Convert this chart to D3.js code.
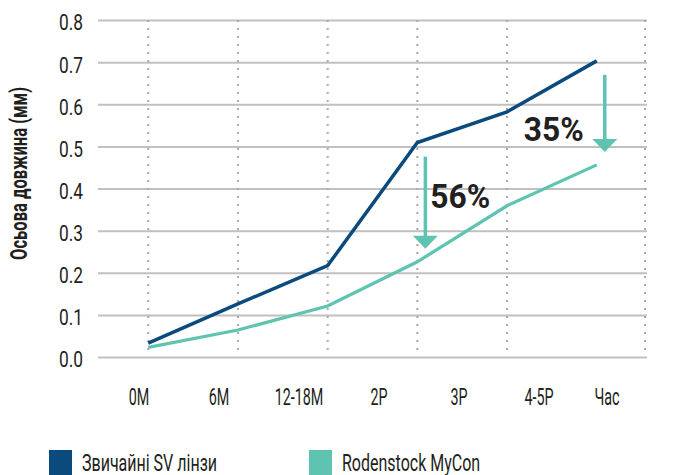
<!DOCTYPE html>
<html>
<head>
<meta charset="utf-8">
<script src="https://cdn.jsdelivr.net/npm/d3@7"></script>
<style>
  html, body { margin: 0; padding: 0; background: #ffffff; }
  svg { display: block; }
  text { font-family: Roboto, "Liberation Sans Narrow", "DejaVu Sans Condensed", sans-serif; fill: #231f20; }
</style>
</head>
<body>
<svg id="chart" width="695" height="475"></svg>
<script>
// Axial length growth: conventional single-vision lenses vs Rodenstock MyCon
const categories = ["0M", "6M", "12-18M", "2P", "3P", "4-5P"];
const svLenses = [0.033, 0.126, 0.217, 0.509, 0.582, 0.703];
const myCon = [0.023, 0.064, 0.121, 0.226, 0.359, 0.456];
const yTicks = [0, 0.1, 0.2, 0.3, 0.4, 0.5, 0.6, 0.7, 0.8];
const seriesNames = ["Звичайні SV лінзи", "Rodenstock MyCon"];
const xAxisTitle = "Час";
const yAxisTitle = "Осьова довжина (мм)";
const highlighted = ["2P", "4-5P"];

const colors = { sv: "#0b4a7d", mycon: "#5ec4b1", grid: "#c0c0c0", dots: "#a9a9a9" };

const svg = d3.select("#chart");
const plot = { left: 98, right: 647, top: 20, bottom: 357 };

const x = d3.scalePoint().domain(categories).range([plot.left, plot.right]).padding(0.56);
const xLabel = d3.scalePoint().domain(categories).range([139, 539]);
const y = d3.scaleLinear().domain([0, 0.8]).range([plot.bottom, plot.top]);

// squeeze text horizontally so a sample string hits a target width
function condense(sel, sampleText, targetWidth) {
  const nodes = sel.nodes();
  if (!nodes.length) return;
  const probe = svg.append("text")
    .attr("font-size", nodes[0].getAttribute("font-size") || getComputedStyle(nodes[0]).fontSize)
    .attr("font-weight", getComputedStyle(nodes[0]).fontWeight)
    .text(sampleText);
  const k = targetWidth / probe.node().getComputedTextLength();
  probe.remove();
  nodes.forEach(n => {
    const w = n.getComputedTextLength();
    n.setAttribute("textLength", (w * k).toFixed(2));
    n.setAttribute("lengthAdjust", "spacingAndGlyphs");
  });
}

// horizontal grid + y tick labels
const yAxis = svg.append("g")
  .attr("transform", `translate(${plot.left},0)`)
  .call(d3.axisLeft(y).tickValues(yTicks).tickFormat(d3.format(".1f"))
    .tickSizeInner(-(plot.right - plot.left)).tickSizeOuter(0).tickPadding(15));
yAxis.attr("font-family", null);
yAxis.select(".domain").remove();
yAxis.selectAll(".tick line").attr("stroke", colors.grid).attr("stroke-width", 2);
yAxis.selectAll(".tick text")
  .attr("font-size", 22).attr("font-weight", 400).attr("fill", "#231f20")
  .attr("dy", "0.45em");
condense(yAxis.selectAll(".tick text"), "0.8", 24);

// dotted vertical guides
const guideX = categories.slice(0, -1).map(c => x(c)).concat([plot.right - 2]);
svg.append("g").selectAll("line").data(guideX).join("line")
  .attr("x1", d => d).attr("x2", d => d)
  .attr("y1", plot.top).attr("y2", plot.bottom - 3)
  .attr("stroke", colors.dots).attr("stroke-width", 2)
  .attr("stroke-dasharray", "2 6");

// x category labels
const xLabels = svg.append("g").selectAll("text").data(categories).join("text")
  .attr("x", d => xLabel(d)).attr("y", 405)
  .attr("text-anchor", "middle")
  .attr("font-size", 23).attr("font-weight", 400)
  .text(d => d);
const xTitle = svg.append("text")
  .attr("x", 607).attr("y", 405).attr("text-anchor", "middle")
  .attr("font-size", 23).attr("font-weight", 400)
  .text(xAxisTitle);
condense(xLabels, "12-18M", 48.7);
condense(xTitle, "12-18M", 48.7);

// y axis title
const yTitle = svg.append("text")
  .attr("transform", "translate(27,173.5) rotate(-90)")
  .attr("text-anchor", "middle")
  .attr("font-size", 24).attr("font-weight", 700)
  .text(yAxisTitle);
condense(yTitle, yAxisTitle, 173);

// series lines
const line = d3.line().x((d, i) => x(categories[i])).y(d => y(d));
svg.append("path").datum(myCon)
  .attr("d", line).attr("fill", "none")
  .attr("stroke", colors.mycon).attr("stroke-width", 3.2);
svg.append("path").datum(svLenses)
  .attr("d", line).attr("fill", "none")
  .attr("stroke", colors.sv).attr("stroke-width", 3.5);

// reduction arrows with percentage labels
const notes = highlighted.map(c => {
  const i = categories.indexOf(c);
  return { cat: c, sv: svLenses[i], mc: myCon[i],
           pct: Math.round((1 - myCon[i] / svLenses[i]) * 100) + "%",
           last: i === categories.length - 1 };
});
const ng = svg.append("g").selectAll("g").data(notes).join("g");
ng.each(function (d) {
  const g = d3.select(this);
  const ax = x(d.cat) + 8;
  const y0 = y(d.sv) + 14;
  const tip = y(d.mc) - 13;
  const headH = 13, headW = 25;
  g.append("line")
    .attr("x1", ax).attr("x2", ax).attr("y1", y0).attr("y2", tip - headH + 1)
    .attr("stroke", colors.mycon).attr("stroke-width", 3.5);
  g.append("path")
    .attr("d", `M${ax - headW / 2},${tip - headH} L${ax + headW / 2},${tip - headH} L${ax},${tip} Z`)
    .attr("fill", colors.mycon);
  const mid = (y0 + tip) / 2;
  const t = g.append("text")
    .attr("font-size", 34).attr("font-weight", 700)
    .attr("fill", "#231f20")
    .text(d.pct);
  if (d.last) {
    t.attr("x", ax - 21).attr("y", mid + 28).attr("text-anchor", "end");
  } else {
    t.attr("x", ax + 5).attr("y", mid + 5).attr("text-anchor", "start");
  }
  condense(t, "56%", 60);
});

// legend
const legendX = [49, 309];
const lg = svg.append("g").selectAll("g").data(seriesNames).join("g")
  .attr("transform", (d, i) => `translate(${legendX[i]},450)`);
lg.append("rect").attr("width", 23).attr("height", 25)
  .attr("fill", (d, i) => i === 0 ? colors.sv : colors.mycon);
const lt = lg.append("text").attr("x", 33).attr("y", 21)
  .attr("font-size", 24).attr("font-weight", 400)
  .text(d => d);
condense(lt, seriesNames[0], 135);
</script>
</body>
</html>
